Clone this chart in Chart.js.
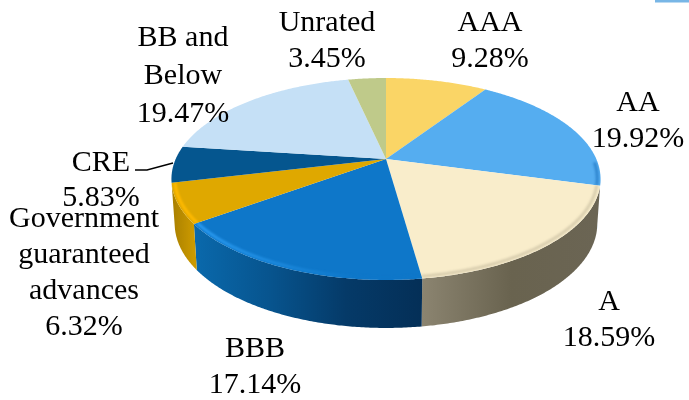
<!DOCTYPE html>
<html>
<head>
<meta charset="utf-8">
<style>html,body{margin:0;padding:0;background:#fff}canvas{display:block}</style>
<script src="https://cdn.jsdelivr.net/npm/chart.js@4"></script>
</head>
<body>
<canvas id="c" width="689" height="400"></canvas>
<script>
const categories = ['AAA', 'AA', 'A', 'BBB', 'Government guaranteed advances', 'CRE', 'BB and Below', 'Unrated'];
const shares = [9.28, 19.92, 18.59, 17.14, 6.32, 5.83, 19.47, 3.45];
const labelLines = [['AAA'], ['AA'], ['A'], ['BBB'], ['Government', 'guaranteed', 'advances'], ['CRE'], ['BB and', 'Below'], ['Unrated']];

const topColors = ['#fad566', '#55adf0', '#f9edcb', '#0e77c9', '#dfa800', '#05568f', '#c5e0f6', '#bfca8a'];
const sideStops = [null, ['#2f7fbf', '#2f7fbf'], ['#8b8470', '#69634f', '#6b6554'], ['#0a69ac', '#07548e', '#053a68', '#042f57'], ['#a87f00', '#cc9a00'], null, null, null];
const rimLeft = [null, '#2f86cf', '#d8cdae', '#2b9cf2', '#ffba00', null, null, null];
const rimRight = [null, '#2f86cf', '#d8cdae', '#0e77c9', '#ffba00', null, null, null];

// label anchors: centre x and first line y, with line pitch
const labelAnchors = [[490, 23, 36], [638, 103, 36], [609, 302, 36], [255, 349, 36], [84, 219, 36], [101, 163, 35], [183, 38, 38], [327, 23, 36]];

// perspective of the pie disc
const CX = 386, CY = 159, A = 210.3, B = 97, K = 0.198, DEPTH = 43.5, DEPTH_V = 4.5, SHRINK = 0.985;
const deg = Math.PI / 180;
function project(t, r) {
  const u = Math.cos(t) * (r === undefined ? 1 : r), v = Math.sin(t) * (r === undefined ? 1 : r), w = 1 - K * v;
  return [CX + A * u / w, CY + B * v / w];
}
function projectBase(t) {
  const p = project(t), d = DEPTH + DEPTH_V * Math.sin(t);
  return [CX + (p[0] - CX) * SHRINK, p[1] + d];
}
function samples(a, b) {
  const out = [], n = Math.max(2, Math.ceil((b - a) / (0.5 * deg)));
  for (let i = 0; i <= n; i++) out.push(a + (b - a) * i / n);
  return out;
}
function slicePath(ctx, arc) {
  ctx.beginPath();
  ctx.moveTo(CX, CY);
  samples(arc.startAngle, arc.endAngle).forEach(t => { const p = project(t); ctx.lineTo(p[0], p[1]); });
  ctx.closePath();
}

const pie3d = {
  id: 'pie3d',
  beforeDatasetDraw(chart) {
    const ctx = chart.ctx, arcs = chart.getDatasetMeta(0).data;
    const lo = 11.4 * deg, hi = 168.6 * deg;
    ctx.save();
    ctx.filter = 'blur(0.5px)';
    // side wall
    arcs.forEach((arc, i) => {
      if (!sideStops[i]) return;
      const s = Math.max(arc.startAngle, lo), e = Math.min(arc.endAngle, hi);
      if (e <= s) return;
      const ts = samples(s, e), tops = ts.map(t => project(t)), bases = ts.map(projectBase).reverse();
      const xs = tops.map(p => p[0]);
      const x0 = Math.min(...xs), x1 = Math.max(...xs);
      const g = ctx.createLinearGradient(x0, 0, x1 + 0.01, 0);
      const stops = sideStops[i];
      stops.forEach((c, k) => g.addColorStop(k / (stops.length - 1), c));
      ctx.fillStyle = g;
      ctx.beginPath();
      tops.concat(bases).forEach((p, k) => k ? ctx.lineTo(p[0], p[1]) : ctx.moveTo(p[0], p[1]));
      ctx.closePath();
      ctx.fill();
    });
    // top face
    arcs.forEach((arc, i) => {
      ctx.fillStyle = topColors[i];
      slicePath(ctx, arc);
      ctx.fill();
    });
    ctx.restore();
    // bevel along the front rim
    arcs.forEach((arc, i) => {
      if (!rimLeft[i]) return;
      const s = Math.max(arc.startAngle, 2 * deg), e = Math.min(arc.endAngle, 190 * deg);
      if (e <= s) return;
      ctx.save();
      slicePath(ctx, arc);
      ctx.clip();
      ctx.filter = 'blur(1px)';
      const pts = samples(s, e).map(t => project(t, 0.985));
      const xs = pts.map(p => p[0]);
      const g = ctx.createLinearGradient(Math.min(...xs), 0, Math.max(...xs) + 0.01, 0);
      g.addColorStop(0, rimLeft[i]);
      g.addColorStop(0.7, rimRight[i]);
      g.addColorStop(1, rimRight[i]);
      ctx.strokeStyle = g;
      ctx.lineWidth = 3;
      ctx.beginPath();
      pts.forEach((p, k) => k ? ctx.lineTo(p[0], p[1]) : ctx.moveTo(p[0], p[1]));
      ctx.stroke();
      ctx.restore();
    });
    return false;
  },
  afterDraw(chart) {
    const ctx = chart.ctx;
    ctx.save();
    // strip at the top right corner of the source picture
    ctx.fillStyle = '#78b6e6';
    ctx.fillRect(655, 0, 34, 2.5);
    // CRE leader line
    ctx.strokeStyle = '#000';
    ctx.lineWidth = 1.3;
    ctx.beginPath();
    ctx.moveTo(135, 170); ctx.lineTo(147, 170); ctx.lineTo(173, 163);
    ctx.stroke();
    // labels
    ctx.fillStyle = '#000';
    ctx.font = '30px "Liberation Serif"';
    ctx.textAlign = 'center';
    ctx.textBaseline = 'middle';
    categories.forEach((c, i) => {
      const [x, y, pitch] = labelAnchors[i];
      const lines = labelLines[i].concat(shares[i].toFixed(2) + '%');
      lines.forEach((t, k) => ctx.fillText(t, x, y + k * pitch));
    });
    ctx.restore();
  }
};

new Chart(document.getElementById('c'), {
  type: 'pie',
  data: { labels: categories, datasets: [{ data: shares, backgroundColor: topColors, borderWidth: 0 }] },
  options: {
    responsive: false,
    animation: false,
    events: [],
    rotation: 0,
    plugins: { legend: { display: false }, tooltip: { enabled: false } }
  },
  plugins: [pie3d]
});
</script>
</body>
</html>
